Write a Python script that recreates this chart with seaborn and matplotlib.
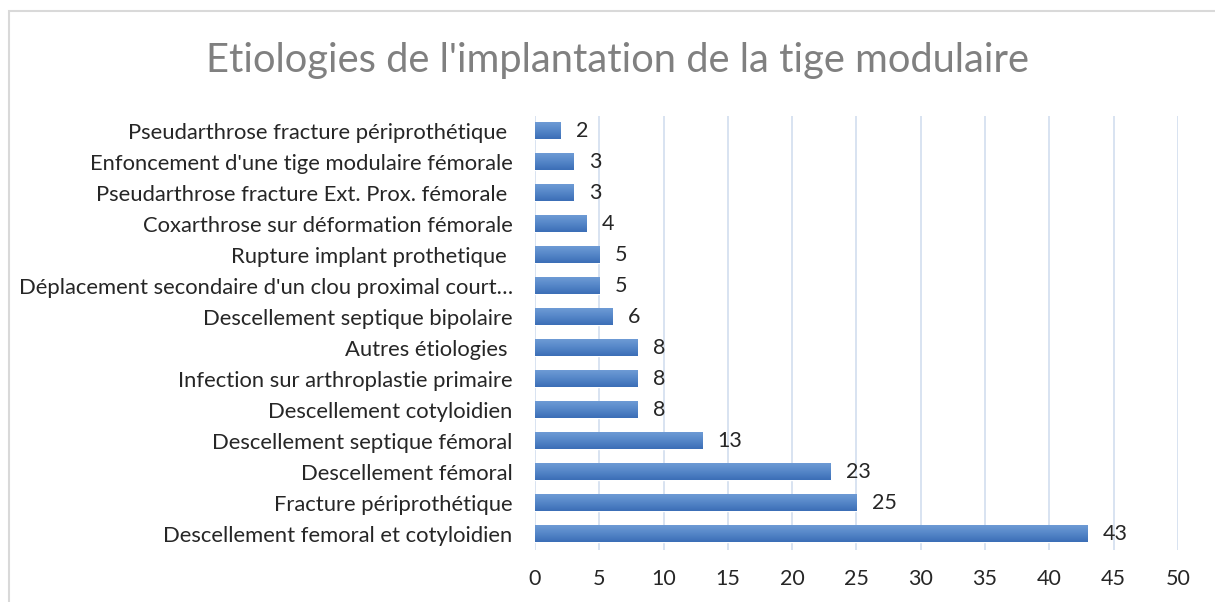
import matplotlib
matplotlib.use("Agg")
import matplotlib.pyplot as plt
import matplotlib.patches as mpatches
import numpy as np
import pandas as pd
import seaborn as sns

# --- Daten (von oben nach unten wie im Original) ---
etiologies = [
    "Pseudarthrose fracture périprothétique ",
    "Enfoncement d'une tige modulaire fémorale",
    "Pseudarthrose fracture Ext. Prox. fémorale ",
    "Coxarthrose sur déformation fémorale",
    "Rupture implant prothetique ",
    "Déplacement secondaire d'un clou proximal court…",
    "Descellement septique bipolaire",
    "Autres étiologies ",
    "Infection sur arthroplastie primaire",
    "Descellement cotyloidien",
    "Descellement septique fémoral",
    "Descellement fémoral",
    "Fracture périprothétique",
    "Descellement femoral et cotyloidien",
]
counts = [2, 3, 3, 4, 5, 5, 6, 8, 8, 8, 13, 23, 25, 43]
x_ticks = [0, 5, 10, 15, 20, 25, 30, 35, 40, 45, 50]

title = "Etiologies de l'implantation de la tige modulaire"

df = pd.DataFrame({"etiologie": etiologies, "n": counts})

sns.set_theme(style="white")
plt.rcParams["font.family"] = ["Lato", "DejaVu Sans"]

fig = plt.figure(figsize=(12.15, 6.02), dpi=100)
ax = fig.add_axes([0.4403, 0.0872, 0.5292, 0.7209])

sns.barplot(data=df, x="n", y="etiologie", orient="h", color="#4F7FC0",
            width=0.52, ax=ax, zorder=2)

# Excel-artiger Farbverlauf auf den Balken
grad = np.linspace(0, 1, 64).reshape(-1, 1)
cmap = matplotlib.colors.LinearSegmentedColormap.from_list(
    "bar", ["#6E9BD5", "#5586C8", "#3B6EB6"])
for p in ax.patches:
    x0, y0 = p.get_x(), p.get_y()
    w, h = p.get_width(), p.get_height()
    ax.imshow(grad, extent=(x0, x0 + w, y0, y0 + h), origin="lower",
              aspect="auto", cmap=cmap, zorder=3, interpolation="bicubic")

ax.set_xlim(0, 50)
ax.set_ylim(len(etiologies) - 0.5, -0.5)

ax.bar_label(ax.containers[0], padding=11, fontsize=15.5, color="#262626")

ax.set_xticks(x_ticks)
ax.xaxis.grid(True, color="#D5E0F0", linewidth=1.3, zorder=0)
ax.yaxis.grid(False)
for s in ax.spines.values():
    s.set_visible(False)
ax.tick_params(axis="x", length=0, pad=14, labelsize=15.5, labelcolor="#262626")
ax.tick_params(axis="y", length=0, pad=16, labelsize=15.8, labelcolor="#262626")
ax.set_xlabel("")
ax.set_ylabel("")

fig.text(0.508, 0.9, title, ha="center", va="center", fontsize=28.7,
         color="#808080")

# Rahmen um das Diagramm
fig.patches.append(mpatches.Rectangle((8.5 / 1215, -0.1), 1.2, 1.1 - 10.5 / 602,
                                      transform=fig.transFigure, fill=False,
                                      edgecolor="#D9D9D9", linewidth=1.5))

fig.savefig("out.png", dpi=100)
